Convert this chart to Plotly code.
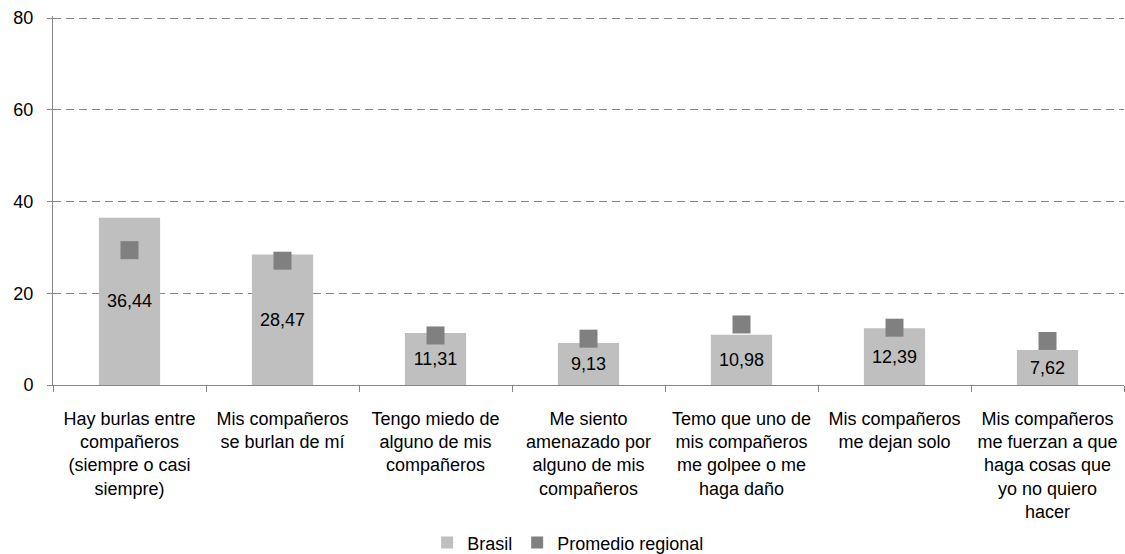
import plotly.graph_objects as go

# Data
categories = [
    "Hay burlas entre compañeros (siempre o casi siempre)",
    "Mis compañeros se burlan de mí",
    "Tengo miedo de alguno de mis compañeros",
    "Me siento amenazado por alguno de mis compañeros",
    "Temo que uno de mis compañeros me golpee o me haga daño",
    "Mis compañeros me dejan solo",
    "Mis compañeros me fuerzan a que haga cosas que yo no quiero hacer",
]
tick_labels = [
    "Hay burlas entre<br>compañeros<br>(siempre o casi<br>siempre)",
    "Mis compañeros<br>se burlan de mí",
    "Tengo miedo de<br>alguno de mis<br>compañeros",
    "Me siento<br>amenazado por<br>alguno de mis<br>compañeros",
    "Temo que uno de<br>mis compañeros<br>me golpee o me<br>haga daño",
    "Mis compañeros<br>me dejan solo",
    "Mis compañeros<br>me fuerzan a que<br>haga cosas que<br>yo no quiero<br>hacer",
]
brasil = [36.44, 28.47, 11.31, 9.13, 10.98, 12.39, 7.62]
promedio_regional = [29.4, 27.1, 10.8, 10.1, 13.2, 12.5, 9.6]

font_family = "Liberation Sans, Arial, sans-serif"

fig = go.Figure()

# Bars for Brasil, with the value written in the middle of each bar
fig.add_trace(go.Bar(
    x=categories, y=brasil,
    name="Brasil",
    width=0.4,
    marker=dict(color="#BFBFBF", line=dict(width=0)),
    text=[f"{v:.2f}".replace(".", ",") for v in brasil],
    textposition="inside",
    insidetextanchor="middle",
    constraintext="none",
    textfont=dict(size=18, color="black", family=font_family),
))

# Regional average drawn as square markers
fig.add_trace(go.Scatter(
    x=categories, y=promedio_regional,
    name="Promedio regional",
    mode="markers",
    marker=dict(symbol="square", size=18, color="#808080"),
))

fig.update_layout(
    width=1125, height=554,
    margin=dict(l=53, r=1, t=16, b=169, autoexpand=False),
    plot_bgcolor="white",
    paper_bgcolor="white",
    font=dict(family=font_family, size=18, color="black"),
    showlegend=True,
    legend=dict(
        orientation="h",
        x=0.481, xanchor="center",
        yref="container", y=0.02, yanchor="middle",
        font=dict(size=18),
        itemwidth=30,
        itemsizing="constant",
    ),
    xaxis=dict(
        tickvals=categories,
        ticktext=tick_labels,
        tickson="boundaries",
        ticks="outside", ticklen=6, tickcolor="#868686",
        showline=True, linecolor="#868686", linewidth=1,
        showgrid=False,
        tickfont=dict(size=18),
        ticklabelstandoff=17,
        range=[-0.5, 6.5],
        automargin=False,
    ),
    yaxis=dict(
        range=[0, 80.45],
        tickvals=[0, 20, 40, 60, 80],
        ticks="outside", ticklen=5, tickcolor="#868686",
        showline=True, linecolor="#868686", linewidth=1,
        showgrid=True, gridcolor="#868686", gridwidth=1, griddash="8px,5px",
        zeroline=False,
        ticklabelstandoff=10,
        tickfont=dict(size=18),
        automargin=False,
    ),
)

# drop the default page margin so the figure sits at the window's corner
fig.write_html(
    "out.html",
    config={"displayModeBar": False},
    post_script="document.body.style.margin='0';",
)
